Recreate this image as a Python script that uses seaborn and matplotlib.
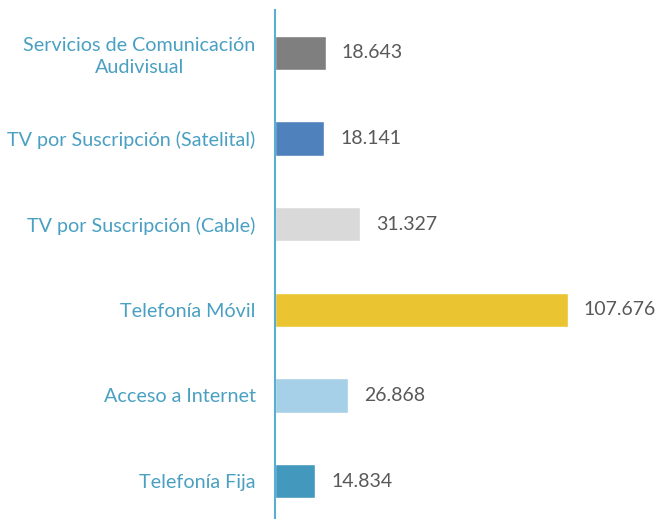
import pandas as pd
import matplotlib.pyplot as plt
import seaborn as sns

categorias = ['Servicios de Comunicación\nAudivisual', 'TV por Suscripción (Satelital)',
              'TV por Suscripción (Cable)', 'Telefonía Móvil', 'Acceso a Internet', 'Telefonía Fija']
valores = [18.643, 18.141, 31.327, 107.676, 26.868, 14.834]
etiquetas = ['18.643', '18.141', '31.327', '107.676', '26.868', '14.834']
colores = ['#7f7f7f', '#4f81bd', '#d9d9d9', '#ebc431', '#a6cfe8', '#4299bd']

sns.set_style('white')
plt.rcParams['font.family'] = ['Lato', 'DejaVu Sans']

df = pd.DataFrame({'categoria': categorias, 'valor': valores})

fig = plt.figure(figsize=(6.56, 5.19), dpi=100)
ax = fig.add_axes([275 / 656, -5 / 519, 330 / 656, 514 / 519])

sns.barplot(data=df, x='valor', y='categoria', hue='categoria', palette=colores,
            width=0.4, legend=False, ax=ax, saturation=1)

ax.set_xlim(0, 330 / 2.72)
ax.set_xlabel('')
ax.set_ylabel('')
ax.set_xticks([])
for s in ['top', 'right', 'bottom']:
    ax.spines[s].set_visible(False)
ax.spines['left'].set_color('#5aaed0')
ax.spines['left'].set_linewidth(1.5)
ax.tick_params(axis='y', length=0, pad=14, labelsize=14.2, labelcolor='#4aa0c2')
for lbl in ax.get_yticklabels():
    lbl.set_multialignment('center')
    lbl.set_linespacing(1.3)

for i, (v, t) in enumerate(zip(valores, etiquetas)):
    ax.text(v + 5.8, i, t, va='center', ha='left', fontsize=14, color='#595959')

fig.savefig('out.png', dpi=100)
